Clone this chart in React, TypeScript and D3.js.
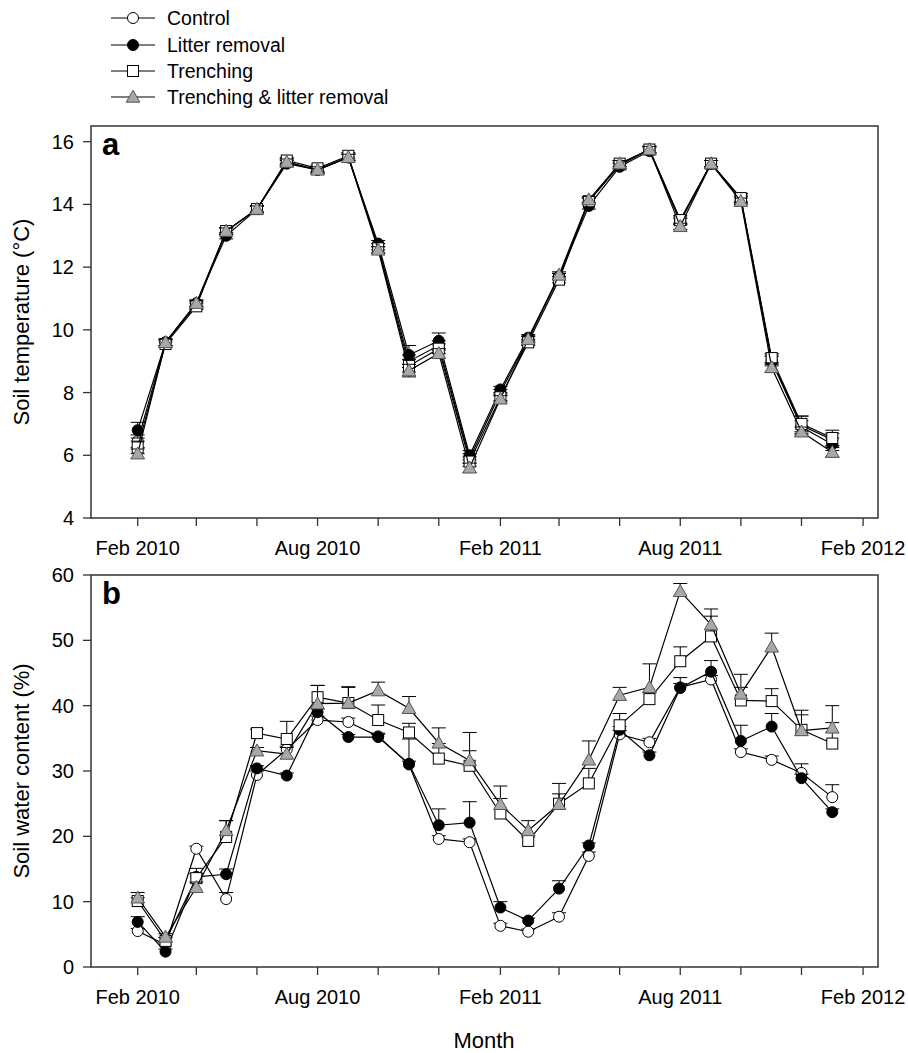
import React from 'react';
import * as d3 from 'd3';

// sampling months
const months = [
  '2010-02', '2010-03', '2010-04', '2010-05', '2010-06', '2010-07', '2010-08', '2010-09',
  '2010-10', '2010-11', '2010-12', '2011-01', '2011-02', '2011-03', '2011-04', '2011-05',
  '2011-06', '2011-07', '2011-08', '2011-09', '2011-10', '2011-11', '2011-12', '2012-01',
];

const tickMonths = [
  '2010-02', '2010-04', '2010-06', '2010-08', '2010-10', '2010-12', '2011-02',
  '2011-04', '2011-06', '2011-08', '2011-10', '2011-12', '2012-02',
];
const tickLabels = [
  'Feb 2010', '', '', 'Aug 2010', '', '', 'Feb 2011', '', '', 'Aug 2011', '', '', 'Feb 2012',
];

const seriesNames = ['Control', 'Litter removal', 'Trenching', 'Trenching & litter removal'];

// (a) soil temperature, degC
const tempControl = [6.45, 9.6, 10.8, 13.15, 13.85, 15.35, 15.1, 15.5, 12.65, 9.0, 9.5, 5.9, 8.0, 9.7, 11.7, 14.1, 15.25, 15.75, 13.5, 15.3, 14.2, 9.05, 6.95, 6.5];
const tempLitter = [6.8, 9.6, 10.85, 13.0, 13.85, 15.3, 15.1, 15.5, 12.75, 9.2, 9.65, 6.0, 8.1, 9.75, 11.7, 13.95, 15.2, 15.7, 13.45, 15.3, 14.15, 9.0, 6.9, 6.35];
const tempTrench = [6.25, 9.55, 10.75, 13.15, 13.85, 15.4, 15.15, 15.55, 12.6, 8.85, 9.4, 5.8, 7.85, 9.6, 11.6, 14.1, 15.3, 15.75, 13.5, 15.3, 14.2, 9.1, 7.0, 6.55];
const tempBoth = [6.05, 9.6, 10.85, 13.15, 13.85, 15.35, 15.1, 15.5, 12.55, 8.7, 9.25, 5.6, 7.8, 9.7, 11.75, 14.15, 15.3, 15.75, 13.3, 15.3, 14.1, 8.8, 6.75, 6.1];

const tempErrControl = [0.2, 0.1, 0.1, 0.1, 0.1, 0.1, 0.1, 0.1, 0.1, 0.2, 0.15, 0.15, 0.1, 0.1, 0.1, 0.1, 0.1, 0.1, 0.1, 0.1, 0.1, 0.15, 0.3, 0.2];
const tempErrLitter = [0.25, 0.1, 0.1, 0.1, 0.1, 0.1, 0.1, 0.1, 0.1, 0.3, 0.25, 0.15, 0.1, 0.1, 0.1, 0.1, 0.1, 0.1, 0.1, 0.1, 0.1, 0.15, 0.2, 0.2];
const tempErrTrench = [0.2, 0.1, 0.1, 0.1, 0.1, 0.1, 0.1, 0.1, 0.15, 0.2, 0.15, 0.15, 0.1, 0.1, 0.1, 0.1, 0.1, 0.1, 0.15, 0.1, 0.15, 0.15, 0.25, 0.25];
const tempErrBoth = [0.15, 0.1, 0.1, 0.1, 0.1, 0.1, 0.1, 0.1, 0.1, 0.2, 0.15, 0.15, 0.1, 0.1, 0.1, 0.1, 0.1, 0.1, 0.1, 0.1, 0.1, 0.15, 0.15, 0.15];

// (b) soil water content, %
const waterControl = [5.5, 3.4, 18.1, 10.4, 29.4, 33.3, 37.8, 37.5, 35.3, 31.0, 19.6, 19.1, 6.3, 5.4, 7.7, 17.0, 35.6, 34.4, 42.8, 44.0, 32.9, 31.7, 29.7, 26.0];
const waterLitter = [6.9, 2.35, 13.8, 14.2, 30.4, 29.3, 39.0, 35.2, 35.2, 31.1, 21.7, 22.1, 9.1, 7.1, 12.0, 18.6, 36.3, 32.4, 42.7, 45.2, 34.6, 36.8, 28.9, 23.7];
const waterTrench = [10.1, 4.0, 13.6, 19.9, 35.8, 34.9, 41.3, 40.4, 37.8, 35.9, 31.9, 30.8, 23.5, 19.3, 25.0, 28.1, 37.0, 41.0, 46.8, 50.6, 40.8, 40.7, 36.3, 34.2];
const waterBoth = [10.6, 4.6, 12.2, 20.9, 33.1, 32.6, 40.3, 40.4, 42.3, 39.6, 34.3, 31.6, 24.9, 20.9, 24.9, 31.7, 41.6, 42.8, 57.5, 52.4, 41.8, 49.0, 36.2, 36.6];

const waterErrControl = [0.4, 0.4, 0.4, 1.0, 0.6, 0.5, 0.6, 0.6, 0.5, 0.5, 0.5, 0.5, 0.4, 0.4, 0.6, 0.6, 0.6, 0.6, 0.6, 0.6, 0.5, 0.6, 1.4, 1.9];
const waterErrLitter = [0.8, 0.4, 0.5, 0.8, 0.4, 0.4, 0.5, 0.4, 0.4, 3.8, 2.5, 3.2, 0.9, 0.4, 1.2, 0.4, 0.5, 0.5, 1.6, 1.7, 2.4, 2.0, 0.6, 0.5];
const waterErrTrench = [0.5, 0.5, 1.5, 2.5, 0.6, 2.7, 1.8, 2.4, 2.3, 1.4, 2.3, 2.3, 2.3, 0.6, 1.5, 2.3, 1.8, 1.0, 2.2, 3.1, 2.0, 1.9, 2.3, 3.2];
const waterErrBoth = [0.8, 0.5, 0.8, 1.5, 0.5, 1.0, 2.8, 2.5, 1.3, 1.8, 2.3, 4.3, 2.8, 1.5, 3.2, 2.9, 1.2, 3.6, 1.2, 2.4, 3.0, 2.1, 3.1, 3.4];

const tempTicks = [4, 6, 8, 10, 12, 14, 16];
const waterTicks = [0, 10, 20, 30, 40, 50, 60];

const FONT = '"Liberation Sans", Arial, Helvetica, sans-serif';
const parseMonth = d3.timeParse('%Y-%m');
const dates = months.map(m => parseMonth(m) as Date);

const left = 91;
const right = 878;
const x = d3.scaleTime()
  .domain([new Date(2009, 11, 16), new Date(2012, 1, 16)])
  .range([left, right]);

const Marker = ({ kind, cx, cy }) => {
  if (kind === 0) return <circle cx={cx} cy={cy} r={5.5} fill="#fff" stroke="#000" strokeWidth={1} />;
  if (kind === 1) return <circle cx={cx} cy={cy} r={5.5} fill="#000" stroke="#000" strokeWidth={1} />;
  if (kind === 2) return <rect x={cx - 5.5} y={cy - 5.5} width={11} height={11} fill="#fff" stroke="#000" strokeWidth={1} />;
  return (
    <path
      d={`M${cx},${cy - 6.8}L${cx + 6.8},${cy + 5.2}L${cx - 6.8},${cy + 5.2}Z`}
      fill="#a8a8a8"
      stroke="#555"
      strokeWidth={1}
    />
  );
};

const Panel = ({ top, bottom, domain, ticks, values, errors, bothSides, letter, title }) => {
  const y = d3.scaleLinear().domain(domain).range([bottom, top]);
  const line = d3.line<number>().x((_, i) => x(dates[i])).y(d => y(d));
  return (
    <g>
      {values.map((vals, s) => (
        <g key={s}>
          {vals.map((v, i) => {
            const px = x(dates[i]);
            const e = errors[s][i];
            const y1 = y(v + e);
            const y0 = bothSides ? y(v - e) : y(v);
            return (
              <g key={i} stroke="#000" strokeWidth={1}>
                <line x1={px} x2={px} y1={y0} y2={y1} />
                <line x1={px - 7} x2={px + 7} y1={y1} y2={y1} />
                {bothSides && <line x1={px - 7} x2={px + 7} y1={y0} y2={y0} />}
              </g>
            );
          })}
          <path d={line(vals) as string} fill="none" stroke="#000" strokeWidth={1.2} />
          {vals.map((v, i) => (
            <Marker key={i} kind={s} cx={x(dates[i])} cy={y(v)} />
          ))}
        </g>
      ))}
      <rect x={left} y={top} width={right - left} height={bottom - top} fill="none" stroke="#333" strokeWidth={1.5} />
      {ticks.map(t => (
        <g key={t}>
          <line x1={left - 8} x2={left} y1={y(t)} y2={y(t)} stroke="#333" strokeWidth={1.3} />
          <text x={left - 17} y={y(t)} dy="0.35em" textAnchor="end" fontSize={20} fontFamily={FONT}>{t}</text>
        </g>
      ))}
      {tickMonths.map((m, i) => {
        const px = x(parseMonth(m) as Date);
        return (
          <g key={m}>
            <line x1={px} x2={px} y1={bottom} y2={bottom + 8} stroke="#333" strokeWidth={1.3} />
            {tickLabels[i] && (
              <text x={px} y={bottom + 37} textAnchor="middle" fontSize={20} fontFamily={FONT}>{tickLabels[i]}</text>
            )}
          </g>
        );
      })}
      <text x={102} y={top + 29} fontSize={31} fontWeight="bold" fontFamily={FONT}>{letter}</text>
      <text
        transform={`translate(29,${(top + bottom) / 2}) rotate(-90)`}
        textAnchor="middle"
        fontSize={22}
        fontFamily={FONT}
      >
        {title}
      </text>
    </g>
  );
};

export default function App() {
  const legendRows = [18, 45, 71, 97];
  return (
    <svg width={908} height={1053} style={{ position: 'absolute', left: 0, top: 0, display: 'block', background: '#fff' }}>
      <rect width={908} height={1053} fill="#fff" />
      {seriesNames.map((name, i) => (
        <g key={name}>
          <line x1={111} x2={155} y1={legendRows[i]} y2={legendRows[i]} stroke="#000" strokeWidth={1.2} />
          <Marker kind={i} cx={133} cy={legendRows[i]} />
          <text x={167} y={legendRows[i]} dy="0.35em" fontSize={19.5} fontFamily={FONT}>{name}</text>
        </g>
      ))}
      <Panel
        top={126}
        bottom={518}
        domain={[4, 16.5]}
        ticks={tempTicks}
        values={[tempControl, tempLitter, tempTrench, tempBoth]}
        errors={[tempErrControl, tempErrLitter, tempErrTrench, tempErrBoth]}
        bothSides={true}
        letter="a"
        title="Soil temperature (°C)"
      />
      <Panel
        top={575}
        bottom={967}
        domain={[0, 60]}
        ticks={waterTicks}
        values={[waterControl, waterLitter, waterTrench, waterBoth]}
        errors={[waterErrControl, waterErrLitter, waterErrTrench, waterErrBoth]}
        bothSides={false}
        letter="b"
        title="Soil water content (%)"
      />
      <text x={484} y={1048} textAnchor="middle" fontSize={22} fontFamily={FONT}>Month</text>
    </svg>
  );
}
